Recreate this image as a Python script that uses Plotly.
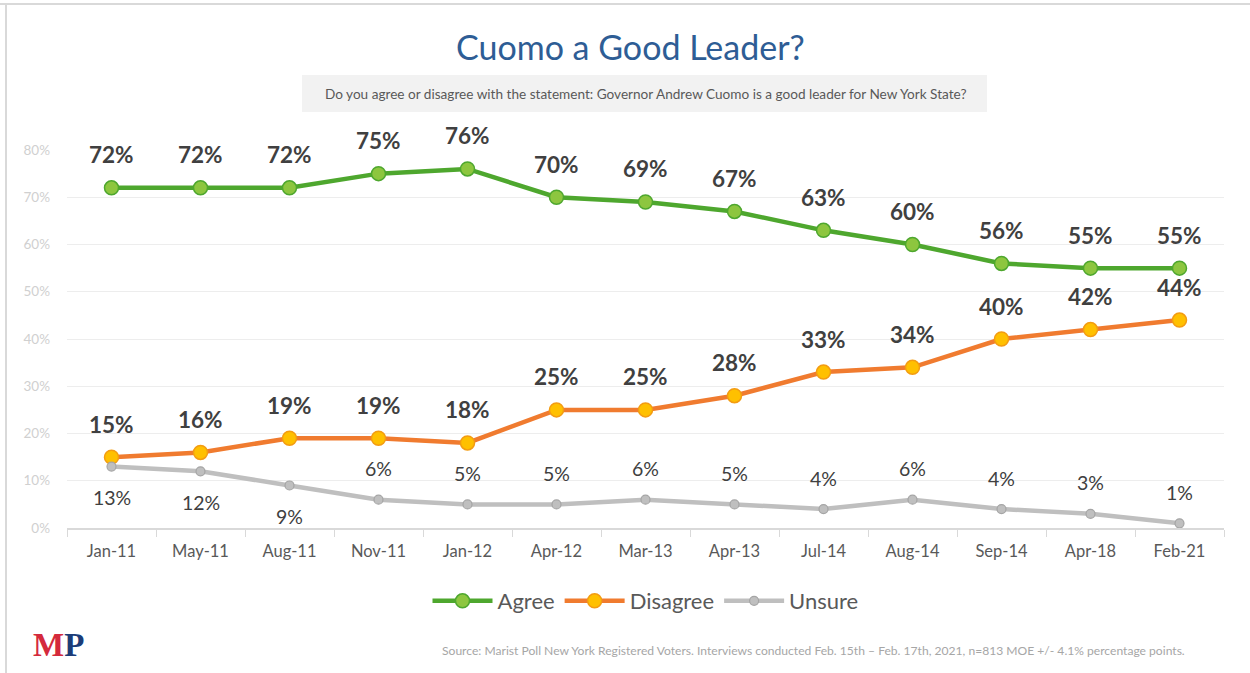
import plotly.graph_objects as go

categories = ["Jan-11", "May-11", "Aug-11", "Nov-11", "Jan-12", "Apr-12", "Mar-13",
              "Apr-13", "Jul-14", "Aug-14", "Sep-14", "Apr-18", "Feb-21"]
agree = [72, 72, 72, 75, 76, 70, 69, 67, 63, 60, 56, 55, 55]
disagree = [15, 16, 19, 19, 18, 25, 25, 28, 33, 34, 40, 42, 44]
unsure = [13, 12, 9, 6, 5, 5, 6, 5, 4, 6, 4, 3, 1]
y_ticks = [0, 10, 20, 30, 40, 50, 60, 70, 80]
y_tick_labels = ["0%", "10%", "20%", "30%", "40%", "50%", "60%", "70%", "80%"]

W, H = 1250, 673
L, R, T, B = 67, 1224, 150, 528
FONT = "Lato"


def px(x):
    return (x - L) / (R - L)


def py(y):
    return (B - y) / (B - T)


fig = go.Figure()
fig.add_trace(go.Scatter(
    x=categories, y=agree, name="Agree", mode="lines+markers",
    line=dict(color="#4EA72E", width=4.5),
    marker=dict(size=14, color="#8DC63F", line=dict(color="#4EA72E", width=1.5)),
    hoverinfo="skip"))
fig.add_trace(go.Scatter(
    x=categories, y=disagree, name="Disagree", mode="lines+markers",
    line=dict(color="#F07B2F", width=4.5),
    marker=dict(size=14, color="#FFC000", line=dict(color="#F39C12", width=1.5)),
    hoverinfo="skip"))
fig.add_trace(go.Scatter(
    x=categories, y=unsure, name="Unsure", mode="lines+markers",
    line=dict(color="#BFBFBF", width=4.5),
    marker=dict(size=9, color="#BFBFBF", line=dict(color="#A5A5A5", width=1.2)),
    hoverinfo="skip"))

annotations = []
for c, v in zip(categories, agree):
    annotations.append(dict(x=c, y=v, xref="x", yref="y", text=f"{v}%", showarrow=False,
                            yshift=33, font=dict(family=FONT, size=22.5, color="#404040", weight="bold")))
for c, v in zip(categories, disagree):
    annotations.append(dict(x=c, y=v, xref="x", yref="y", text=f"{v}%", showarrow=False,
                            yshift=33, font=dict(family=FONT, size=22.5, color="#404040", weight="bold")))
for i, (c, v) in enumerate(zip(categories, unsure)):
    shift = -31 if i < 3 else 31
    annotations.append(dict(x=c, y=v, xref="x", yref="y", text=f"{v}%", showarrow=False,
                            yshift=shift, font=dict(family=FONT, size=19.5, color="#404040")))

# Title
annotations.append(dict(x=px(630), y=py(47), xref="paper", yref="paper", text="Cuomo a Good Leader?",
                        showarrow=False, xanchor="center", yanchor="middle",
                        font=dict(family=FONT, size=34, color="#2E5D95")))
# Subtitle
annotations.append(dict(x=px(645), y=py(94), xref="paper", yref="paper",
                        text="Do you agree or disagree with the statement: Governor Andrew Cuomo is a good leader for New York State?",
                        showarrow=False, xanchor="center", yanchor="middle",
                        font=dict(family=FONT, size=13.6, color="#595959")))
# Source
annotations.append(dict(x=px(1187), y=py(650), xref="paper", yref="paper",
                        text="Source: Marist Poll New York Registered Voters. Interviews conducted Feb. 15th \u2013 Feb. 17th, 2021, n=813 MOE +/- 4.1% percentage points.",
                        showarrow=False, xanchor="right", yanchor="middle",
                        font=dict(family=FONT, size=12.1, color="#A6A6A6")))
# Logo
annotations.append(dict(x=px(31), y=py(645), xref="paper", yref="paper",
                        text="<span style='color:#D42A3C'>M</span><span style='color:#1C3C78'>P</span>",
                        showarrow=False, xanchor="left", yanchor="middle",
                        font=dict(family="Liberation Serif", size=33, weight="bold")))

shapes = [
    dict(type="rect", xref="paper", yref="paper", x0=px(302), x1=px(987), y0=py(75), y1=py(112),
         fillcolor="#F2F2F2", line=dict(width=0), layer="below"),
    dict(type="line", xref="paper", yref="paper", x0=px(0), x1=px(1250), y0=py(4), y1=py(4),
         line=dict(color="#D9D9D9", width=2)),
    dict(type="line", xref="paper", yref="paper", x0=px(6), x1=px(6), y0=py(4), y1=py(673),
         line=dict(color="#D9D9D9", width=2)),
]

fig.update_layout(
    width=W, height=H,
    margin=dict(l=L, r=W - R, t=T, b=H - B),
    paper_bgcolor="white", plot_bgcolor="white",
    font=dict(family=FONT, color="#595959"),
    showlegend=True,
    legend=dict(orientation="h", x=0.5, xanchor="center", y=py(601), yanchor="middle",
                font=dict(family=FONT, size=22, color="#595959"), itemwidth=60,
                entrywidth=0, traceorder="normal"),
    annotations=annotations,
    shapes=shapes,
)
fig.update_xaxes(
    type="category", range=[-0.5, len(categories) - 0.5],
    showline=True, linecolor="#D9D9D9", linewidth=1.5,
    ticks="outside", tickson="boundaries", ticklen=7, tickcolor="#D9D9D9",
    tickfont=dict(family=FONT, size=16.5, color="#595959"),
    ticklabelstandoff=7,
    showgrid=False, fixedrange=True,
)
fig.update_yaxes(
    range=[0, 80], tickvals=y_ticks, ticktext=y_tick_labels,
    showgrid=True, gridcolor="#EDEDED", gridwidth=1.2,
    zeroline=False, showline=False,
    tickfont=dict(family=FONT, size=13.5, color="#D0D0D0"),
    ticklabelstandoff=16, fixedrange=True,
)

fig.write_html("out.html", config={"displayModeBar": False},
               post_script="document.body.style.margin='0';document.body.style.overflow='hidden';")
